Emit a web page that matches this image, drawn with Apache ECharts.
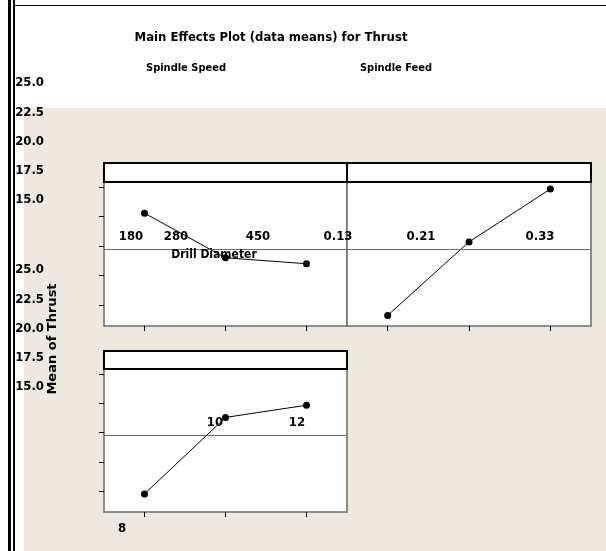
<!DOCTYPE html>
<html><head><meta charset="utf-8">
<script src="https://cdn.jsdelivr.net/npm/echarts@6/dist/echarts.min.js"></script>
<style>html,body{margin:0;padding:0;background:#fff}#c{width:606px;height:551px}</style>
</head><body><div id="c"></div>
<script>
// ---- data ----
const speedLevels = ['180', '280', '450'];
const feedLevels = ['0.13', '0.21', '0.33'];
const diameterLevels = ['8', '10', '12'];
const speedMeans = [22.8, 19.0, 18.5];
const feedMeans = [14.1, 20.35, 24.85];
const diameterMeans = [14.75, 21.3, 22.35];
const grandMean = [19.75];
const yTicks = [15, 17.5, 20, 22.5, 25];
const factorNames = ['Spindle Speed', 'Spindle Feed', 'Drill Diameter'];
const titleText = 'Main Effects Plot (data means) for Thrust';
const yTitle = 'Mean of Thrust';

// ---- layout / styles ----
const FONT = 'DejaVu Sans Condensed';
const BEIGE = '#EDE9E0';
const FRAME = '#6b6b6b';
const YMIN = 13.2, YMAX = 25.45;

const panels = [
  {left: 104, top: 182, width: 243, height: 144, cats: speedLevels, vals: speedMeans, ticks: true},
  {left: 347, top: 182, width: 244, height: 144, cats: feedLevels, vals: feedMeans, ticks: false},
  {left: 104, top: 369, width: 243, height: 143, cats: diameterLevels, vals: diameterMeans, ticks: true}
];
const headers = [
  {x: 104, y: 163, w: 243, h: 19},
  {x: 347, y: 163, w: 244, h: 19},
  {x: 104, y: 351, w: 243, h: 18}
];
const labelGrids = [{top: 83, height: 117}, {top: 270, height: 117}];

const grid = [], xAxis = [], yAxis = [], series = [];
panels.forEach((p, i) => {
  grid.push({left: p.left, top: p.top, width: p.width, height: p.height, show: true,
    backgroundColor: '#fff', borderColor: FRAME, borderWidth: 1.5});
  xAxis.push({type: 'category', gridIndex: i, data: p.cats, boundaryGap: true,
    axisLine: {show: false}, axisLabel: {show: false},
    axisTick: {show: true, alignWithLabel: true, length: 5, lineStyle: {color: '#000', width: 1}}});
  yAxis.push({type: 'value', gridIndex: i, min: YMIN, max: YMAX,
    axisLine: {show: false}, axisLabel: {show: false}, splitLine: {show: false},
    axisTick: {show: p.ticks, customValues: yTicks, length: 5, lineStyle: {color: '#000', width: 1}}});
  series.push({type: 'line', xAxisIndex: i, yAxisIndex: i, data: p.vals,
    symbol: 'circle', symbolSize: 7, itemStyle: {color: '#000'},
    lineStyle: {color: '#000', width: 1}, clip: false,
    markLine: {silent: true, symbol: 'none', label: {show: false},
      lineStyle: {color: FRAME, width: 1, type: 'solid'},
      data: grandMean.map(v => ({yAxis: v}))}});
});
labelGrids.forEach((g, k) => {
  const gi = grid.length;
  grid.push({left: 46, top: g.top, width: 1, height: g.height, show: false});
  xAxis.push({type: 'value', gridIndex: gi, show: false, min: 0, max: 1});
  yAxis.push({type: 'value', gridIndex: gi, min: yTicks[0], max: yTicks[yTicks.length - 1], interval: 2.5,
    axisLine: {show: false}, axisTick: {show: false}, splitLine: {show: false},
    axisLabel: {show: true, margin: 2, color: '#000', fontFamily: FONT, fontWeight: 'bold', fontSize: 13,
      formatter: v => v.toFixed(1)}});
});

const txt = (text, x, y, size, extra) => Object.assign({type: 'text', x: x, y: y, z: 100,
  style: {text: text, fill: '#000', font: 'bold ' + size + 'px "' + FONT + '"', align: 'center', verticalAlign: 'middle'}}, extra || {});

const graphic = [
  {type: 'rect', z: -100, shape: {x: 24, y: 108, width: 582, height: 443}, style: {fill: BEIGE}},
  {type: 'rect', z: 50, shape: {x: 8, y: 0, width: 3, height: 551}, style: {fill: '#000'}},
  {type: 'rect', z: 50, shape: {x: 13, y: 0, width: 2, height: 551}, style: {fill: '#000'}},
  {type: 'rect', z: 50, shape: {x: 15, y: 5, width: 591, height: 1}, style: {fill: '#000'}}
];
headers.forEach(h => graphic.push({type: 'rect', z: 40, shape: {x: h.x, y: h.y, width: h.w, height: h.h},
  style: {fill: '#fff', stroke: '#000', lineWidth: 2}}));

// misplaced labels as they appear in the reference
const row1 = speedLevels.concat(feedLevels);
const row1X = [131, 176, 258, 338, 421, 540];
row1.forEach((t, i) => graphic.push(txt(t, row1X[i], 237, 13)));
const diamX = [122, 215, 297], diamY = [529, 423, 423];
diameterLevels.forEach((t, i) => graphic.push(txt(t, diamX[i], diamY[i], 13)));
graphic.push(txt(factorNames[0], 186, 68, 11));
graphic.push(txt(factorNames[1], 396, 68, 11));
graphic.push(txt(factorNames[2], 214, 255, 12));
graphic.push(txt(titleText, 271, 38, 13));
graphic.push(txt(yTitle, 53, 339, 13, {rotation: Math.PI / 2,
  style: {text: yTitle, fill: '#000', font: 'bold 13px "DejaVu Sans"', align: 'center', verticalAlign: 'middle'}}));

const chart = echarts.init(document.getElementById('c'), null, {renderer: 'canvas'});
chart.setOption({animation: false, backgroundColor: '#fff', grid, xAxis, yAxis, series, graphic});
</script></body></html>
